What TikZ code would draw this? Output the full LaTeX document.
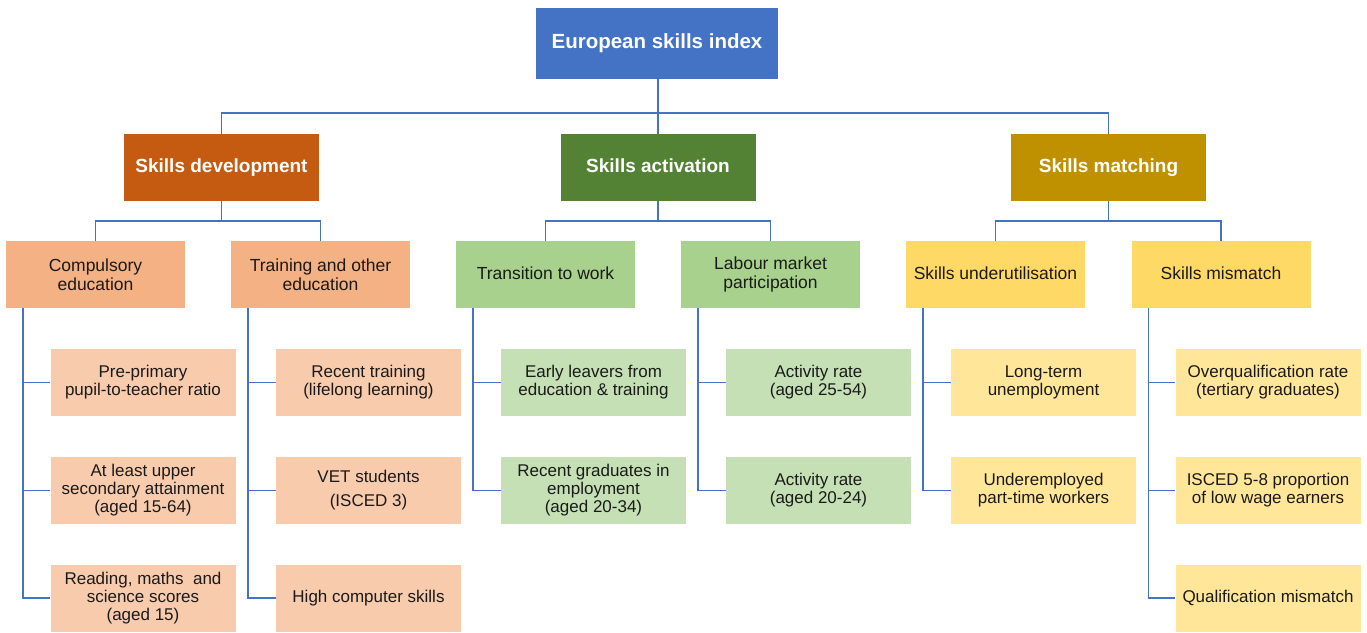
\documentclass[tikz,border=0pt]{standalone}
\usepackage{fontspec}
\setmainfont{Liberation Sans}
\definecolor{cBlue}{HTML}{4472C4}
\definecolor{cLine}{HTML}{4472C4}
\definecolor{cDev}{HTML}{C55A11}
\definecolor{cAct}{HTML}{548235}
\definecolor{cMat}{HTML}{BF9000}
\definecolor{cDevB}{HTML}{F4B183}
\definecolor{cActB}{HTML}{A9D18E}
\definecolor{cMatB}{HTML}{FFD966}
\definecolor{cDevC}{HTML}{F8CBAD}
\definecolor{cActC}{HTML}{C5E0B4}
\definecolor{cMatC}{HTML}{FFE699}
\definecolor{cText}{HTML}{1A1A1A}
\begin{document}
\begin{tikzpicture}[x=1pt,y=-1pt,
  base/.style={rectangle, inner sep=0pt, align=center, anchor=center},
  topbox/.style={base, fill=cBlue, minimum width=242pt, minimum height=71pt, text=white, text height=15pt, text depth=4.5pt, font=\bfseries\fontsize{20.5}{24}\selectfont},
  lone/.style={base, minimum width=195pt, minimum height=67pt, text=white, text height=14pt, text depth=4pt, font=\bfseries\fontsize{19}{22}\selectfont},
  ltwo/.style={base, minimum width=179pt, minimum height=67pt, text=cText, font=\fontsize{17.5}{18.5}\selectfont},
  lthree/.style={base, minimum width=185pt, minimum height=67pt, text=cText, font=\fontsize{17}{18}\selectfont},
  link/.style={draw=cLine, line width=1.5pt}]
\useasboundingbox (0,0) rectangle (1367,632);
% top
\node[topbox] (top) at (657,43.5) {European skills index};
% level 1
\node[lone, fill=cDev] (dev) at (221.5,167.5) {Skills development};
\node[lone, fill=cAct] (act) at (658,167.5) {Skills activation};
\node[lone, fill=cMat] (mat) at (1108.5,167.5) {Skills matching};
% level 2
\node[ltwo, fill=cDevB] (comp) at (95.5,274.5) {Compulsory\\education};
\node[ltwo, fill=cDevB] (train) at (320.5,274.5) {Training and other\\education};
\node[ltwo, fill=cActB] (trans) at (545.5,274.5) {Transition to work\vphantom{g}};
\node[ltwo, fill=cActB] (lab) at (770.5,274.5) {Labour market\\participation};
\node[ltwo, fill=cMatB] (under) at (995.5,274.5) {Skills underutilisation\vphantom{g}};
\node[ltwo, fill=cMatB] (mis) at (1221,274.5) {Skills mismatch\vphantom{g}};
% level 3
\node[lthree, fill=cDevC] (c1) at (143,382.5) {Pre-primary\\pupil-to-teacher ratio};
\node[lthree, fill=cDevC] (c2) at (143,490.5) {At least upper\\secondary attainment\\(aged 15-64)};
\node[lthree, fill=cDevC] (c3) at (143,598) {Reading, maths\ \ and\\science scores\\(aged 15)};
\node[lthree, fill=cDevC] (t1) at (368.5,382.5) {Recent training\\(lifelong learning)};
\node[lthree, fill=cDevC] (t2) at (368.5,490.5) {VET students\\[6pt](ISCED 3)};
\node[lthree, fill=cDevC] (t3) at (368.5,598) {High computer skills};
\node[lthree, fill=cActC] (r1) at (593.5,382.5) {Early leavers from\\education \& training};
\node[lthree, fill=cActC] (r2) at (593.5,490.5) {Recent graduates in\\employment\\(aged 20-34)};
\node[lthree, fill=cActC] (l1) at (818.5,382.5) {Activity rate\\(aged 25-54)};
\node[lthree, fill=cActC] (l2) at (818.5,490.5) {Activity rate\\(aged 20-24)};
\node[lthree, fill=cMatC] (u1) at (1043.5,382.5) {Long-term\\unemployment};
\node[lthree, fill=cMatC] (u2) at (1043.5,490.5) {Underemployed\\part-time workers};
\node[lthree, fill=cMatC] (m1) at (1268,382.5) {Overqualification rate\\(tertiary graduates)};
\node[lthree, fill=cMatC] (m2) at (1268,490.5) {ISCED 5-8 proportion\\of low wage earners};
\node[lthree, fill=cMatC] (m3) at (1268,598) {Qualification mismatch};
% connectors top -> level 1
\draw[link] (act.north |- top.south) -- (act.north);
\draw[link] (dev.north) -- ++(0,-21) -| (mat.north);
% level 1 -> level 2
\draw[link] (dev.south) -- ++(0,20) -| (comp.north);
\draw[link] (dev.south) -- ++(0,20) -| (train.north);
\draw[link] (act.south) -- ++(0,20) -| (trans.north);
\draw[link] (act.south) -- ++(0,20) -| (lab.north);
\draw[link] (mat.south) -- ++(0,20) -| (under.north);
\draw[link] (mat.south) -- ++(0,20) -| (mis.north);
% level 2 -> level 3
\foreach \p/\c in {comp/c1,comp/c2,comp/c3,train/t1,train/t2,train/t3,trans/r1,trans/r2,lab/l1,lab/l2,under/u1,under/u2,mis/m1,mis/m2,mis/m3}{
  \draw[link] ([xshift=17pt]\p.south west) |- (\c.west);
}
\end{tikzpicture}
\end{document}
